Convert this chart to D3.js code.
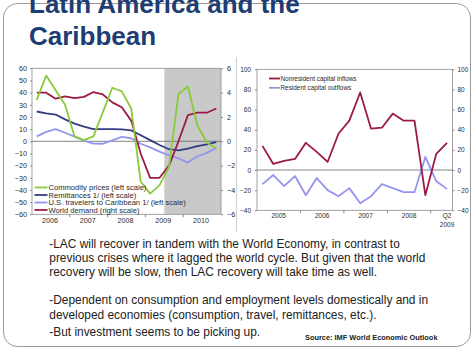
<!DOCTYPE html>
<html><head><meta charset="utf-8">
<script src="https://cdn.jsdelivr.net/npm/d3@7"></script>
<style>
body{margin:0;background:#fff}
svg{display:block}
text{font-family:"Liberation Sans",Arial,Helvetica,sans-serif}
</style></head>
<body><svg id="c" width="474" height="355"></svg>
<script>
// ---------- DATA ----------
const leftQuarters = ["2006Q1","2006Q2","2006Q3","2006Q4","2007Q1","2007Q2","2007Q3","2007Q4",
  "2008Q1","2008Q2","2008Q3","2008Q4","2009Q1","2009Q2","2009Q3","2009Q4","2010Q1","2010Q2","2010Q3","2010Q4"];
const leftYears = ["2006","2007","2008","2009","2010"];
const commodity   = [34, 54, 42, 30, 4, 1, 4, 24, 44, 41, 27, -33, -43, -36, -21, 39, 45, 13, -1, -6];
const remittances = [24.5, 23, 22, 18, 14.5, 12, 10, 10, 10, 9.8, 9, 5, 1, -3, -6.5, -7.4, -6, -4, -2.5, -0.6];
const travelers   = [4, 7.7, 10, 7, 3.8, 0.6, -1.9, -2, 0.8, 3.6, 2.5, -2, -5, -8.5, -11.5, -14, -17.5, -12.3, -9.5, -5.5];
const worldDemand = [4.0, 4.0, 3.5, 3.7, 3.55, 3.65, 4.05, 3.85, 3.2, 2.8, 1.7, -1.0, -3.0, -3.0, -2.0, 0, 2.15, 2.35, 2.35, 2.7];
const leftTicks  = [60,50,40,30,20,10,0,-10,-20,-30,-40,-50,-60];
const rightTicks = [6,4,2,0,-2,-4,-6];
const forecastStart = "2009Q3";
const leftLegend = ["Commodity prices (left scale)","Remittances 1/ (left scale)","U.S. travelers to Caribbean 1/ (left scale)","World demand (right scale)"];

const rQuarters = ["2005Q1","2005Q2","2005Q3","2005Q4","2006Q1","2006Q2","2006Q3","2006Q4",
  "2007Q1","2007Q2","2007Q3","2007Q4","2008Q1","2008Q2","2008Q3","2008Q4","2009Q1","2009Q2"];
const rYears = ["2005","2006","2007","2008"];
const inflows  = [24, 6, 9, 11, 27, 18, 8, 36, 49, 77, 41, 42, 56, 49, 49, -25, 16, 27];
const outflows = [-14, -5, -16, -6, -25, -8, -20, -26, -18, -33, -26, -14, -18, -22, -22, 13, -11, -19];
const rTicks = [100,80,60,40,20,0,-20,-40];
const rLegend = ["Nonresident capital inflows","Resident capital outflows"];

const titleLines = ["Latin America and the","Caribbean"];
const bodyLines = [
  ["-LAC will recover in tandem with the World Economy, in contrast to",
   "previous crises where it lagged the world cycle. But given that the world",
   "recovery will be slow, then LAC recovery will take time as well."],
  ["-Dependent on consumption and employment levels domestically and in",
   "developed economies (consumption, travel, remittances, etc.)."],
  ["-But investment seems to be picking up."]
];
const sourceText = "Source: IMF World Economic Outlook";

// ---------- STYLE ----------
const C = {green:"#88cc3a", navy:"#343b82", lilac:"#9595ee", maroon:"#9c1b45", title:"#1d3d73", axis:"#8c8c8c", txt:"#2a2a2a"};

const svg = d3.select("#c");

// slide frame
svg.append("rect").attr("x",3.5).attr("y",3.5).attr("width",467).attr("height",343)
  .attr("rx",14).attr("fill","none").attr("stroke","#9a9a9a").attr("stroke-width",1);

// title
svg.append("g").selectAll("text").data(titleLines).join("text")
  .attr("x",29).attr("y",(d,i)=>13+i*31.5)
  .attr("font-size",26).attr("font-weight","bold").attr("fill",C.title).text(d=>d);

// separator between charts
svg.append("line").attr("x1",236.5).attr("x2",236.5).attr("y1",57).attr("y2",232)
  .attr("stroke","#cfcfcf");

// ---------- LEFT CHART ----------
(function(){
  const L=32,R=221,T=68.3,B=214.3;
  const x = d3.scaleBand().domain(leftQuarters).range([L,R]);
  const bw = x.bandwidth();
  const xc = q => x(q)+bw/2;
  const y = d3.scaleLinear().domain([-60,60]).range([B,T]);
  const y2 = d3.scaleLinear().domain([-6,6]).range([B,T]);
  const g = svg.append("g");

  g.append("rect").attr("x",x(forecastStart)).attr("y",T).attr("width",R-x(forecastStart)).attr("height",B-T).attr("fill","#c9c9c9");
  g.append("rect").attr("x",L).attr("y",T).attr("width",R-L).attr("height",B-T).attr("fill","none").attr("stroke",C.axis).attr("stroke-width",0.8);
  g.append("line").attr("x1",L).attr("x2",R).attr("y1",y(0)).attr("y2",y(0)).attr("stroke","#666").attr("stroke-width",0.8);

  const ax = g.append("g").attr("transform",`translate(${L},0)`)
    .call(d3.axisLeft(y).tickValues(leftTicks).tickSize(2).tickPadding(3));
  const ax2 = g.append("g").attr("transform",`translate(${R},0)`)
    .call(d3.axisRight(y2).tickValues(rightTicks).tickSize(2).tickPadding(4));
  [ax,ax2].forEach(a=>{
    a.select(".domain").remove();
    a.selectAll("line").attr("stroke",C.axis);
    a.selectAll("text").attr("font-size",7.2).attr("fill",C.txt).attr("font-family","Liberation Sans, Arial, sans-serif");
  });

  // year ticks and labels
  g.selectAll(".yt").data(leftYears.slice(1)).join("line")
    .attr("x1",d=>x(d+"Q1")).attr("x2",d=>x(d+"Q1")).attr("y1",B).attr("y2",B+3).attr("stroke",C.axis);
  g.selectAll(".yl").data(leftYears).join("text")
    .attr("x",d=>x(d+"Q1")+2*bw-1).attr("y",222.8).attr("text-anchor","middle")
    .attr("font-size",7.2).attr("fill",C.txt).text(d=>d);

  const line = d3.line().x((d,i)=>xc(leftQuarters[i])).y(d=>y(d));
  const line2 = d3.line().x((d,i)=>xc(leftQuarters[i])).y(d=>y2(d));
  const series = [
    {v:travelers,c:C.lilac,f:line},
    {v:remittances,c:C.navy,f:line},
    {v:worldDemand,c:C.maroon,f:line2},
    {v:commodity,c:C.green,f:line}
  ];
  series.forEach(s=>g.append("path").attr("d",s.f(s.v)).attr("fill","none").attr("stroke",s.c).attr("stroke-width",1.8).attr("stroke-linejoin","round"));

  const lc=[C.green,C.navy,C.lilac,C.maroon];
  const lg = g.append("g");
  leftLegend.forEach((t,i)=>{
    const yy = 187.5+i*7.5;
    lg.append("line").attr("x1",34.5).attr("x2",47.5).attr("y1",yy).attr("y2",yy).attr("stroke",lc[i]).attr("stroke-width",1.8);
    lg.append("text").attr("x",48.5).attr("y",yy+2.6).attr("font-size",7.6).attr("fill",C.txt).text(t);
  });
})();

// ---------- RIGHT CHART ----------
(function(){
  const L=257,R=452.5,T=69.3,B=210.3;
  const x = d3.scaleBand().domain(rQuarters).range([L,R]);
  const bw = x.bandwidth();
  const xc = q => x(q)+bw/2;
  const y = d3.scaleLinear().domain([-40,100]).range([B,T]);
  const g = svg.append("g");

  g.append("rect").attr("x",L).attr("y",T).attr("width",R-L).attr("height",B-T).attr("fill","none").attr("stroke",C.axis).attr("stroke-width",0.8);
  g.append("line").attr("x1",L).attr("x2",R).attr("y1",y(0)).attr("y2",y(0)).attr("stroke","#666").attr("stroke-width",0.8);

  const ax = g.append("g").attr("transform",`translate(${L},0)`)
    .call(d3.axisLeft(y).tickValues(rTicks).tickSize(2).tickPadding(4));
  const ax2 = g.append("g").attr("transform",`translate(${R},0)`)
    .call(d3.axisRight(y).tickValues(rTicks).tickSize(2).tickPadding(3));
  [ax,ax2].forEach(a=>{
    a.select(".domain").remove();
    a.selectAll("line").attr("stroke",C.axis);
    a.selectAll("text").attr("font-size",6.5).attr("fill",C.txt).attr("font-family","Liberation Sans, Arial, sans-serif");
  });

  g.selectAll(".yt").data(rYears.slice(1).concat(["2009"])).join("line")
    .attr("x1",d=>x(d+"Q1")).attr("x2",d=>x(d+"Q1")).attr("y1",B).attr("y2",B+3).attr("stroke",C.axis);
  g.selectAll(".yl").data(rYears).join("text")
    .attr("x",d=>x(d+"Q1")+2*bw).attr("y",218).attr("text-anchor","middle")
    .attr("font-size",6.5).attr("fill",C.txt).text(d=>d);
  const last = rQuarters[rQuarters.length-1];
  g.append("text").attr("x",xc(last)).attr("y",218).attr("text-anchor","middle").attr("font-size",6.5).attr("fill",C.txt).text(last.slice(4));
  g.append("text").attr("x",xc(last)).attr("y",226.5).attr("text-anchor","middle").attr("font-size",6.5).attr("fill",C.txt).text(last.slice(0,4));

  const line = d3.line().x((d,i)=>xc(rQuarters[i])).y(d=>y(d));
  g.append("path").attr("d",line(outflows)).attr("fill","none").attr("stroke",C.lilac).attr("stroke-width",1.8).attr("stroke-linejoin","round");
  g.append("path").attr("d",line(inflows)).attr("fill","none").attr("stroke",C.maroon).attr("stroke-width",1.8).attr("stroke-linejoin","round");

  const lc=[C.maroon,C.lilac];
  rLegend.forEach((t,i)=>{
    const yy = 78.5+i*9.3;
    g.append("line").attr("x1",269).attr("x2",280).attr("y1",yy).attr("y2",yy).attr("stroke",lc[i]).attr("stroke-width",1.8);
    g.append("text").attr("x",280.5).attr("y",yy+2.3).attr("font-size",6.4).attr("fill",C.txt).text(t);
  });
})();

// ---------- BODY TEXT ----------
const paraY = [247.7, 304.3, 336];
const bt = svg.append("g");
bodyLines.forEach((p,pi)=>{
  p.forEach((ln,li)=>{
    bt.append("text").attr("x",49.3).attr("y",paraY[pi]+li*14.3)
      .attr("font-size",11.9).attr("fill","#222").text(ln);
  });
});
svg.append("text").attr("x",305).attr("y",339.5).attr("font-size",7.4).attr("font-weight","bold").attr("fill","#222").text(sourceText);
</script></body></html>
